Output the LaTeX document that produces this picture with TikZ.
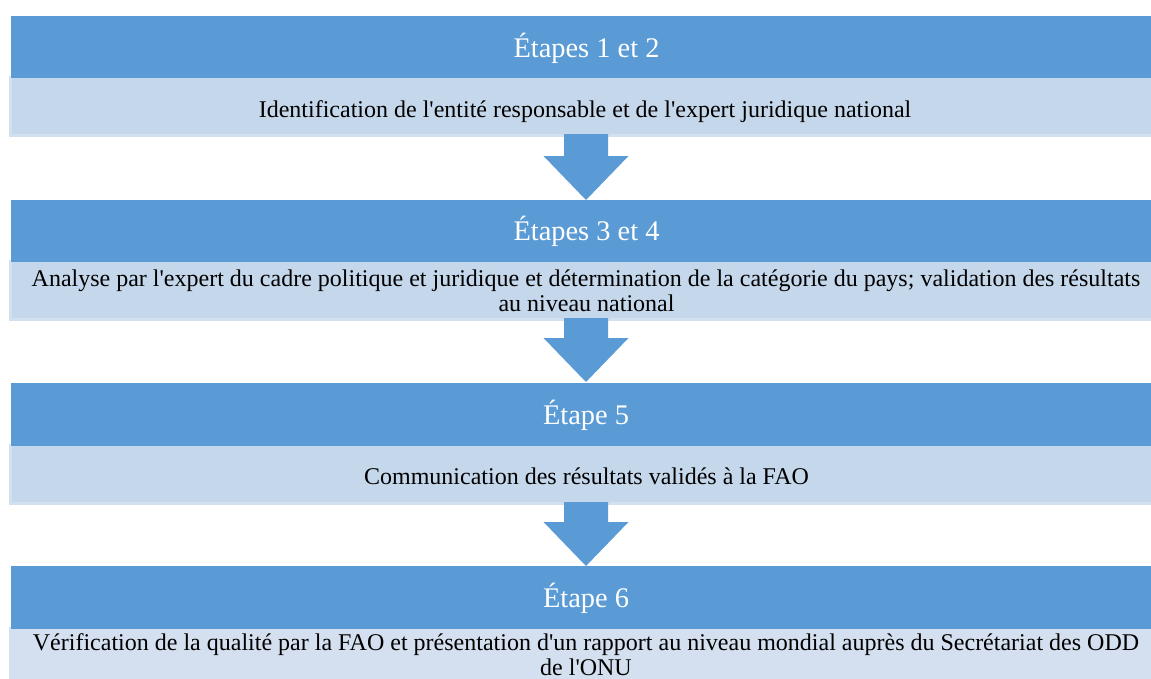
\documentclass[tikz,border=0pt]{standalone}
\usepackage{fontspec}
\setmainfont{Liberation Serif}
\usetikzlibrary{calc}
\definecolor{darkblue}{HTML}{5B9BD5}
\definecolor{lightblue}{HTML}{C5D7EB}
\definecolor{lightedge}{HTML}{D3E0F0}
\definecolor{lightblueb}{HTML}{D4E0EF}
\newcommand{\aq}{\textquotesingle}
\begin{document}
\begin{tikzpicture}[x=1pt,y=-1pt,
  hdrbox/.style={fill=darkblue, draw=none, minimum width=1150pt, minimum height=62pt, inner sep=0pt, outer sep=0pt, anchor=north west},
  ltbox/.style={fill=lightblue, draw=lightedge, line width=2.5pt, minimum width=1160pt, minimum height=58.5pt, inner sep=0pt, outer sep=0pt, anchor=north west},
  hdrtxt/.style={anchor=base, text=white, inner sep=0pt, font=\fontsize{28.4}{34}\selectfont},
  bodytxt/.style={anchor=base, text=black, inner sep=0pt, font=\fontsize{24}{26}\selectfont},
  blockarrow/.style={fill=darkblue, draw=none}
]
\useasboundingbox (0,0) rectangle (1151,678);
\clip (0,0) rectangle (1151,678);

% step 1-2
\node[ltbox] (b1) at (10.25,77) {};
\node[hdrbox] (h1) at (11,16) {};
% step 3-4
\node[ltbox] (b2) at (10.25,261) {};
\node[hdrbox] (h2) at (11,200) {};
% step 5
\node[ltbox] (b3) at (10.25,445) {};
\node[hdrbox, minimum height=63pt] (h3) at (11,383) {};
% step 6
\node[ltbox, fill=lightblueb, minimum height=80pt] (b4) at (10.25,628) {};
\node[hdrbox, minimum height=63pt] (h4) at (11,566) {};

% arrows
\coordinate (s1) at (586,134);
\coordinate (t1) at (586,200);
\coordinate (s2) at (586,318);
\coordinate (t2) at (586,382);
\coordinate (s3) at (586,502);
\coordinate (t3) at (586,566);
\foreach \s/\t in {s1/t1,s2/t2,s3/t3}{
  \fill[blockarrow] ($(\s)+(-22,0)$) -- ($(\s)+(22,0)$) -- ($(\t)+(22,-44)$) -- ($(\t)+(42.5,-44)$)
    -- (\t) -- ($(\t)+(-42.5,-44)$) -- ($(\t)+(-22,-44)$) -- cycle;
}

% texts
\node[hdrtxt] (h1t) at (586.5,57) {Étapes 1 et 2};
\node[bodytxt] (b1t) at (585,117) {Identification de l\aq{}entité responsable et de l\aq{}expert juridique national};
\node[hdrtxt] (h2t) at (586.5,240.5) {Étapes 3 et 4};
\node[bodytxt] (b2ta) at (586,286) {Analyse par l\aq{}expert du cadre politique et juridique et détermination de la catégorie du pays; validation des résultats};
\node[bodytxt] (b2tb) at (586.5,311) {au niveau national};
\node[hdrtxt] (h3t) at (586,424) {Étape 5};
\node[bodytxt] (b3t) at (586.5,484) {Communication des résultats validés à la FAO};
\node[hdrtxt] (h4t) at (586,607) {Étape 6};
\node[bodytxt] (b4ta) at (586,650) {Vérification de la qualité par la FAO et présentation d\aq{}un rapport au niveau mondial auprès du Secrétariat des ODD};
\node[bodytxt] (b4tb) at (586,675) {de l\aq{}ONU};
\end{tikzpicture}
\end{document}
